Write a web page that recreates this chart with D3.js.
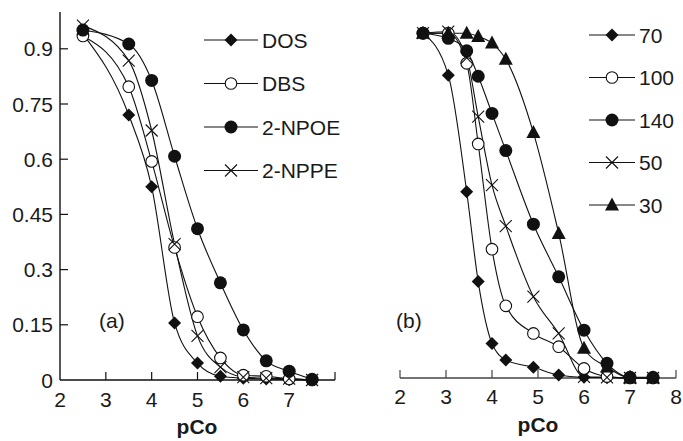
<!DOCTYPE html>
<html>
<head>
<meta charset="utf-8">
<script src="https://cdn.jsdelivr.net/npm/d3@7"></script>
<style>
  body { margin: 0; background: #fff; }
  svg text { font-family: "Liberation Sans", Arial, sans-serif; fill: #1a1a1a; }
</style>
</head>
<body>
<div id="container"></div>
<script>
/* DATA */
// panel (a): plasticizers
const pCoA = [2.5, 3.5, 4, 4.5, 5, 5.5, 6, 6.5, 7, 7.5];
const dos  = [0.94, 0.72, 0.525, 0.155, 0.046, 0.01, 0.005, 0.003, 0.001, 0];
const dbs  = [0.935, 0.797, 0.594, 0.36, 0.172, 0.06, 0.013, 0.01, 0.003, 0];
const npoe = [0.951, 0.913, 0.814, 0.608, 0.411, 0.264, 0.136, 0.052, 0.024, 0.002];
const nppe = [0.963, 0.868, 0.678, 0.369, 0.12, 0.035, 0.008, 0.005, 0.004, 0];
const namesA = ["DOS", "DBS", "2-NPOE", "2-NPPE"];

// panel (b): amounts
const pCoB = [2.5, 3.05, 3.45, 3.7, 4, 4.3, 4.9, 5.45, 6, 6.5, 7, 7.5];
const s70  = [0.937, 0.823, 0.506, 0.262, 0.094, 0.049, 0.029, 0.008, 0.002, 0.001, 0, 0];
const s100 = [0.937, 0.937, 0.855, 0.636, 0.35, 0.196, 0.121, 0.085, 0.026, 0.004, 0, 0];
const s140 = [0.937, 0.923, 0.889, 0.82, 0.719, 0.618, 0.418, 0.275, 0.13, 0.04, 0.002, 0.002];
const s50  = [0.937, 0.941, 0.87, 0.71, 0.524, 0.413, 0.221, 0.121, 0.003, 0.002, 0, 0];
const s30  = [0.937, 0.937, 0.937, 0.928, 0.91, 0.866, 0.667, 0.393, 0.081, 0.03, 0, 0];
const namesB = ["70", "100", "140", "50", "30"];

const yTicksA = [0, 0.15, 0.3, 0.45, 0.6, 0.75, 0.9];
const xTicksA = [2, 3, 4, 5, 6, 7];
const xTicksB = [2, 3, 4, 5, 6, 7, 8];

/* CONSTANTS */
const width = 683, height = 441;
const fs = "21px";

const svg = d3.select("#container")
  .append("svg")
  .attr("width", width)
  .attr("height", height);

// marker shapes
function marker(g, kind) {
  if (kind === "diamond") {
    g.append("path").attr("d", "M0,-6.5L6.5,0L0,6.5L-6.5,0Z").attr("fill", "#111");
  } else if (kind === "open") {
    g.append("circle").attr("r", 5.8).attr("fill", "#fff").attr("stroke", "#111").attr("stroke-width", 1.1);
  } else if (kind === "filled") {
    g.append("circle").attr("r", 6.5).attr("fill", "#111");
  } else if (kind === "cross") {
    g.append("path").attr("d", "M-6,-6L6,6M-6,6L6,-6").attr("stroke", "#111").attr("stroke-width", 1.1).attr("fill", "none");
  } else if (kind === "triangle") {
    g.append("path").attr("d", "M0,-7.5L7,5.5L-7,5.5Z").attr("fill", "#111");
  }
}

function drawPanel(cfg) {
  const x = d3.scaleLinear().domain([2, 8]).range(cfg.xRange);
  const y = d3.scaleLinear().domain([0, 1]).range(cfg.yRange);
  const g = svg.append("g");

  // x axis
  g.append("line")
    .attr("x1", x(2)).attr("x2", x(8))
    .attr("y1", y(0)).attr("y2", y(0))
    .attr("stroke", cfg.axisColor).attr("stroke-width", 1.4);
  g.selectAll("line.xtick")
    .data(cfg.xTickMarks)
    .join("line")
    .attr("class", "xtick")
    .attr("x1", d => x(d)).attr("x2", d => x(d))
    .attr("y1", y(0)).attr("y2", y(0) - 8)
    .attr("stroke", cfg.axisColor).attr("stroke-width", 1.2);
  g.selectAll("text.xlab")
    .data(cfg.xTicks)
    .join("text")
    .attr("class", "xlab")
    .attr("x", d => x(d))
    .attr("y", y(0) + cfg.xLabGap)
    .attr("text-anchor", "middle")
    .style("font-size", fs)
    .text(d => d);

  // y axis (panel a only)
  if (cfg.yTicks) {
    g.append("line")
      .attr("x1", x(2)).attr("x2", x(2))
      .attr("y1", y(0)).attr("y2", y(1))
      .attr("stroke", "#111").attr("stroke-width", 1.4);
    g.selectAll("line.ytick")
      .data(cfg.yTicks.filter(d => d > 0))
      .join("line")
      .attr("class", "ytick")
      .attr("x1", x(2)).attr("x2", x(2) + 8)
      .attr("y1", d => y(d)).attr("y2", d => y(d))
      .attr("stroke", "#111").attr("stroke-width", 1.2);
    g.selectAll("text.ylab")
      .data(cfg.yTicks)
      .join("text")
      .attr("class", "ylab")
      .attr("x", x(2) - 7)
      .attr("y", d => y(d) + 7.5)
      .attr("text-anchor", "end")
      .style("font-size", fs)
      .text(d => d);
  }

  // axis title
  g.append("text")
    .attr("x", cfg.titleX)
    .attr("y", cfg.titleY)
    .attr("text-anchor", "middle")
    .style("font-size", fs)
    .style("font-weight", "bold")
    .text("pCo");

  // panel tag
  g.append("text")
    .attr("x", cfg.tagX)
    .attr("y", 328)
    .style("font-size", fs)
    .text(cfg.tag);

  // lines
  const line = d3.line()
    .x(d => x(d[0]))
    .y(d => y(d[1]))
    .curve(d3.curveMonotoneX);

  cfg.series.forEach(s => {
    const pts = cfg.xs.map((v, i) => [v, s.values[i]]);
    g.append("path")
      .datum(pts)
      .attr("d", line)
      .attr("fill", "none")
      .attr("stroke", "#111")
      .attr("stroke-width", 1.1);
  });

  // markers
  cfg.series.forEach(s => {
    const pts = cfg.xs.map((v, i) => [v, s.values[i]]);
    g.selectAll(null)
      .data(pts)
      .join("g")
      .attr("transform", d => `translate(${x(d[0])},${y(d[1])})`)
      .each(function () { marker(d3.select(this), s.shape); });
  });

  // legend
  cfg.series.forEach((s, i) => {
    const ly = cfg.legend.y0 + i * cfg.legend.dy;
    const lg = g.append("g");
    lg.append("line")
      .attr("x1", cfg.legend.x1).attr("x2", cfg.legend.x2)
      .attr("y1", ly).attr("y2", ly)
      .attr("stroke", "#111").attr("stroke-width", 1.1);
    const m = lg.append("g").attr("transform", `translate(${(cfg.legend.x1 + cfg.legend.x2) / 2},${ly})`);
    marker(m, s.shape);
    lg.append("text")
      .attr("x", cfg.legend.x2 + 4)
      .attr("y", ly + 7.5)
      .style("font-size", fs)
      .text(s.name);
  });
}

drawPanel({
  xRange: [60, 335],
  yRange: [380, 12],
  axisColor: "#111",
  xTicks: xTicksA,
  xTickMarks: [3, 4, 5, 6, 7, 8],
  xLabGap: 27,
  yTicks: yTicksA,
  titleX: 197, titleY: 434,
  tag: "(a)", tagX: 99,
  xs: pCoA,
  series: [
    { name: namesA[0], values: dos, shape: "diamond" },
    { name: namesA[1], values: dbs, shape: "open" },
    { name: namesA[2], values: npoe, shape: "filled" },
    { name: namesA[3], values: nppe, shape: "cross" }
  ],
  legend: { x1: 204, x2: 258, y0: 40, dy: 43.5 }
});

drawPanel({
  xRange: [400, 676],
  yRange: [378, 10],
  axisColor: "#444",
  xTicks: xTicksB,
  xTickMarks: xTicksB,
  xLabGap: 25.5,
  yTicks: null,
  titleX: 538, titleY: 432,
  tag: "(b)", tagX: 396,
  xs: pCoB,
  series: [
    { name: namesB[0], values: s70, shape: "diamond" },
    { name: namesB[1], values: s100, shape: "open" },
    { name: namesB[2], values: s140, shape: "filled" },
    { name: namesB[3], values: s50, shape: "cross" },
    { name: namesB[4], values: s30, shape: "triangle" }
  ],
  legend: { x1: 589, x2: 635, y0: 35, dy: 42.5 }
});
</script>
</body>
</html>
